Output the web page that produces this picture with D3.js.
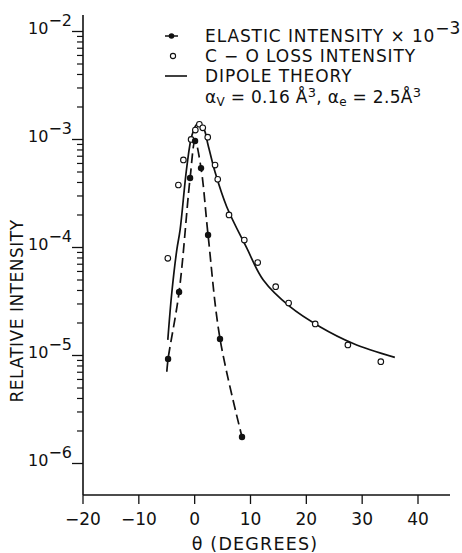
<!DOCTYPE html>
<html>
<head>
<meta charset="utf-8">
<script src="https://cdn.jsdelivr.net/npm/d3@7"></script>
<style>
  body { margin: 0; background: #fff; }
  svg text { font-family: "DejaVu Sans", sans-serif; fill: #111; }
</style>
</head>
<body>
<div id="graph"></div>
<script>
// elastic intensity x 10^-3 (filled dots)
var elasticTheta = [-4.67, -2.70, -0.73, 0.16, 1.23, 2.49, 4.63, 8.57];
var elasticValue = [9.2e-6, 3.83e-5, 4.35e-4, 9.58e-4, 5.38e-4, 1.29e-4, 1.41e-5, 1.74e-6];
// dashed guide through elastic points
var elasticCurveTheta = [-4.90, -4.67, -2.70, -0.73, 0.16, 1.23, 2.49, 4.63, 8.57];
var elasticCurveValue = [7.0e-6, 9.2e-6, 3.83e-5, 4.35e-4, 9.58e-4, 5.38e-4, 1.29e-4, 1.41e-5, 1.74e-6];
// C-O loss intensity (open circles)
var lossTheta = [-4.72, -2.83, -1.93, -0.55, 0.21, 0.93, 1.54, 2.43, 3.74, 4.22, 6.24, 8.98, 11.38, 14.60, 16.92, 21.68, 27.53, 33.43];
var lossValue = [7.85e-5, 3.75e-4, 6.4e-4, 9.9e-4, 1.21e-3, 1.37e-3, 1.27e-3, 1.04e-3, 5.74e-4, 4.24e-4, 1.98e-4, 1.16e-4, 7.18e-5, 4.29e-5, 3.03e-5, 1.94e-5, 1.24e-5, 8.67e-6];
// dipole theory curve
var dipoleTheta = [-4.72, -4.01, -3.11, -2.52, -1.32, -0.38, 0.61, 1.68, 2.49, 3.74, 5.83, 9.41, 12.38, 17.16, 22.52, 28.48, 35.94];
var dipoleValue = [1.38e-5, 3.75e-5, 9.4e-5, 1.44e-4, 5.5e-4, 1.09e-3, 1.39e-3, 1.26e-3, 8.8e-4, 4.94e-4, 2.36e-4, 9.8e-5, 4.94e-5, 2.8e-5, 1.83e-5, 1.28e-5, 9.5e-6];
// ticks
var xTicks = [-20, -10, 0, 10, 20, 30, 40];
var yExponents = [-2, -3, -4, -5, -6];

var width = 462, height = 553;
var svg = d3.select("#graph").append("svg")
  .attr("width", width).attr("height", height);

var x = d3.scaleLinear().domain([-20, 40]).range([82.5, 417.5]);
var y = d3.scaleLog().domain([1e-6, 1e-2]).range([463, 31]);

// axis lines
svg.append("line").attr("x1", 83).attr("x2", 83).attr("y1", 15).attr("y2", 495)
  .attr("stroke", "#111").attr("stroke-width", 1.6);
svg.append("line").attr("x1", 83).attr("x2", 450).attr("y1", 495).attr("y2", 495)
  .attr("stroke", "#111").attr("stroke-width", 1.6);

// x axis
var xAxis = d3.axisBottom(x).tickValues(xTicks).tickSize(9).tickSizeOuter(0)
  .tickFormat(function (d) { return d < 0 ? "\u2212" + Math.abs(d) : d; });
var gx = svg.append("g").attr("transform", "translate(0,495)").call(xAxis);
gx.select(".domain").remove();
gx.selectAll(".tick line").attr("stroke", "#111").attr("stroke-width", 1.3);
gx.selectAll(".tick text").attr("y", 30).attr("dy", 0)
  .style("font-size", "17px").style("font-family", "DejaVu Sans").attr("fill", "#111");

// y axis minor ticks
var minors = [];
for (var e = -6; e < -2; e++) {
  for (var m = 2; m <= 9; m++) minors.push(m * Math.pow(10, e));
}
var yMinor = d3.axisLeft(y).tickValues(minors).tickSize(6).tickFormat("");
var gyMinor = svg.append("g").attr("transform", "translate(83,0)").call(yMinor);
gyMinor.select(".domain").remove();
gyMinor.selectAll(".tick line").attr("stroke", "#111").attr("stroke-width", 1.2);

var yMajor = d3.axisLeft(y).tickValues(yExponents.map(function (p) { return Math.pow(10, p); }))
  .tickSize(11).tickFormat("");
var gyMajor = svg.append("g").attr("transform", "translate(83,0)").call(yMajor);
gyMajor.select(".domain").remove();
gyMajor.selectAll(".tick line").attr("stroke", "#111").attr("stroke-width", 1.3);

// y tick labels 10^n
yExponents.forEach(function (p) {
  var t = svg.append("text").attr("x", 72).attr("y", y(Math.pow(10, p)) + 3)
    .attr("text-anchor", "end").style("font-size", "16px");
  t.append("tspan").text("10");
  t.append("tspan").attr("dy", -8).text("\u2212" + Math.abs(p));
});

// axis titles
svg.append("text").attr("x", 255).attr("y", 550).attr("text-anchor", "middle")
  .style("font-size", "17.5px").style("letter-spacing", "1.2px").text("\u03b8 (DEGREES)");
svg.append("text").attr("transform", "translate(23,311) rotate(-90)")
  .attr("text-anchor", "middle").style("font-size", "17px").style("letter-spacing", "0.5px")
  .text("RELATIVE INTENSITY");

// lines
var line = d3.line().curve(d3.curveCatmullRom.alpha(0.5))
  .x(function (d) { return x(d[0]); }).y(function (d) { return y(d[1]); });

svg.append("path")
  .datum(dipoleTheta.map(function (t, i) { return [t, dipoleValue[i]]; }))
  .attr("d", line).attr("fill", "none").attr("stroke", "#111").attr("stroke-width", 1.7);

svg.append("path")
  .datum(elasticCurveTheta.map(function (t, i) { return [t, elasticCurveValue[i]]; }))
  .attr("d", line).attr("fill", "none").attr("stroke", "#111").attr("stroke-width", 1.7)
  .attr("stroke-dasharray", "10,5");

// points
svg.selectAll(".loss").data(lossTheta).enter().append("circle")
  .attr("class", "loss")
  .attr("cx", function (d) { return x(d); })
  .attr("cy", function (d, i) { return y(lossValue[i]); })
  .attr("r", 2.8).attr("fill", "#fff").attr("stroke", "#111").attr("stroke-width", 1.1);

svg.selectAll(".elastic").data(elasticTheta).enter().append("circle")
  .attr("class", "elastic")
  .attr("cx", function (d) { return x(d); })
  .attr("cy", function (d, i) { return y(elasticValue[i]); })
  .attr("r", 3.2).attr("fill", "#111");

// legend
var lg = svg.append("g").style("font-size", "17px").style("letter-spacing", "0.9px");
lg.append("line").attr("x1", 165).attr("x2", 178).attr("y1", 36).attr("y2", 36)
  .attr("stroke", "#111").attr("stroke-width", 1.5);
lg.append("circle").attr("cx", 171.5).attr("cy", 36).attr("r", 2.8).attr("fill", "#111");
var t1 = lg.append("text").attr("x", 205).attr("y", 42);
t1.append("tspan").text("ELASTIC INTENSITY \u00d7 10");
t1.append("tspan").attr("dy", -8).style("letter-spacing", "0px").text("\u22123");

lg.append("circle").attr("cx", 173).attr("cy", 56).attr("r", 2.6)
  .attr("fill", "#fff").attr("stroke", "#111").attr("stroke-width", 1.1);
lg.append("text").attr("x", 205).attr("y", 62).text("C \u2212 O  LOSS INTENSITY");

lg.append("line").attr("x1", 165).attr("x2", 187).attr("y1", 76).attr("y2", 76)
  .attr("stroke", "#111").attr("stroke-width", 1.6);
lg.append("text").attr("x", 205).attr("y", 82).text("DIPOLE THEORY");

var t4 = lg.append("text").attr("x", 205).attr("y", 103).style("letter-spacing", "0.3px");
t4.append("tspan").text("\u03b1");
t4.append("tspan").attr("dy", 3).style("font-size", "12px").text("V");
t4.append("tspan").attr("dy", -3).text(" = 0.16 \u00c5");
t4.append("tspan").attr("dy", -6).style("font-size", "13px").text("3");
t4.append("tspan").attr("dy", 6).text(",  \u03b1");
t4.append("tspan").attr("dy", 3).style("font-size", "12px").text("e");
t4.append("tspan").attr("dy", -3).text(" = 2.5\u00c5");
t4.append("tspan").attr("dy", -6).style("font-size", "13px").text("3");
</script>
</body>
</html>
